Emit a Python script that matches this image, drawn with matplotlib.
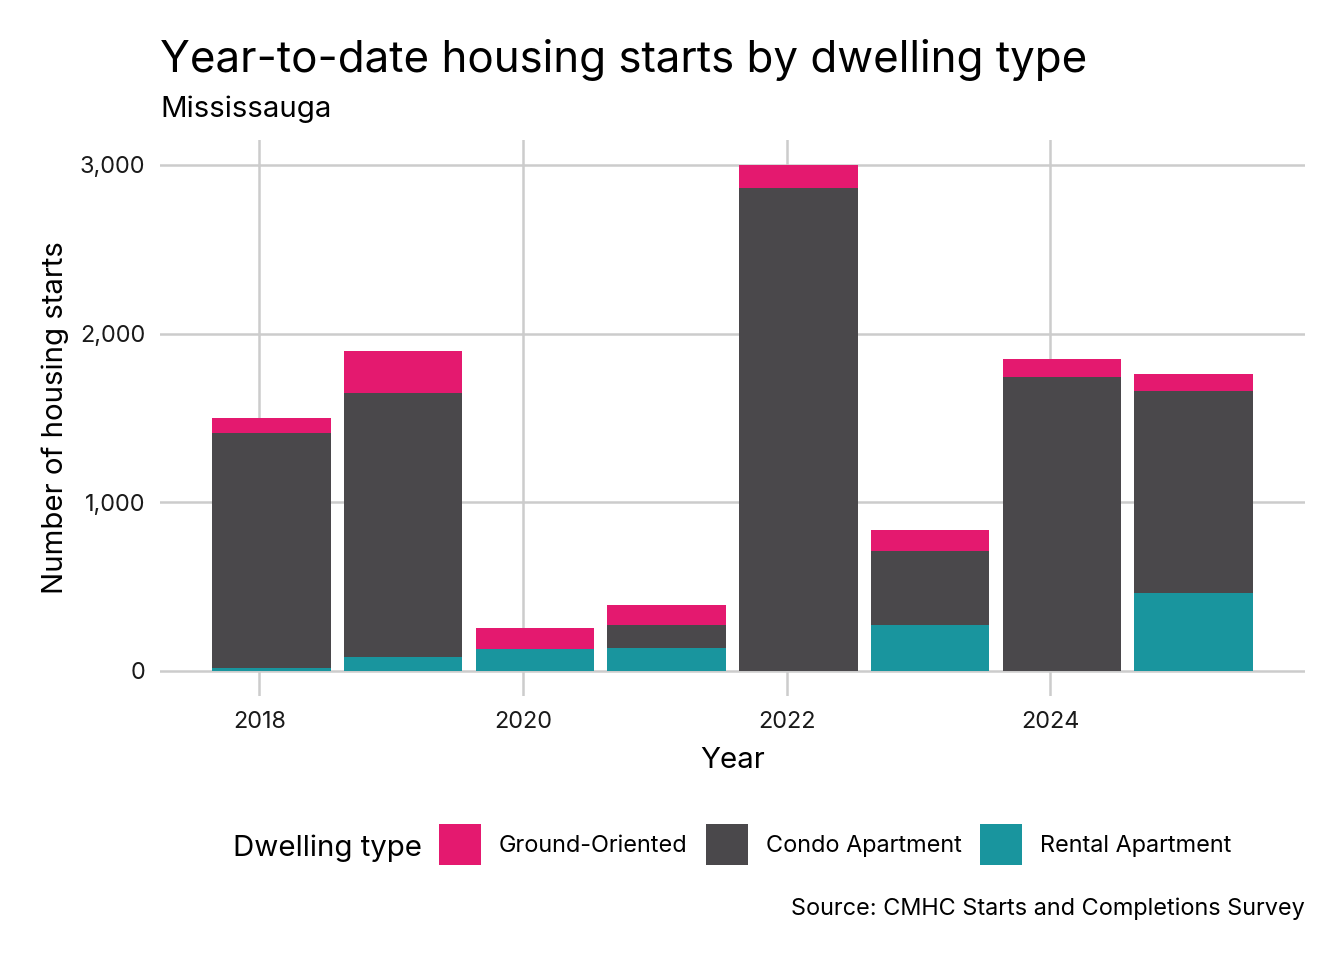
import matplotlib
matplotlib.use("Agg")
import matplotlib.pyplot as plt
from matplotlib.patches import Patch
from matplotlib.ticker import FuncFormatter
import numpy as np

plt.rcParams['font.family'] = ['Inter', 'DejaVu Sans']

years = [2018, 2019, 2020, 2021, 2022, 2023, 2024, 2025]
rental = [18, 83, 130, 136, 0, 272, 0, 461]
condo = [1393, 1567, 0, 137, 2864, 439, 1742, 1199]
ground = [89, 247, 125, 118, 137, 125, 108, 100]

series_names = ["Ground-Oriented", "Condo Apartment", "Rental Apartment"]
colors = {"Ground-Oriented": "#e4196f",
          "Condo Apartment": "#4a484b",
          "Rental Apartment": "#19959e"}

W, H = 1344, 960
fig = plt.figure(figsize=(W / 200, H / 200), dpi=200)

def fx(px):
    return px / W

def fy(py):
    return 1 - py / H

small = 8.45
medium = 10.6

# panel
ax = fig.add_axes([fx(160), fy(696), fx(1305) - fx(160), fy(139.5) - fy(696)])

# bars sit a little after Jan 1 of each year (date axis)
x = np.array(years) + 0.09
rental_a = np.array(rental)
condo_a = np.array(condo)
ground_a = np.array(ground)

ax.bar(x, rental_a, width=0.9, color=colors["Rental Apartment"], linewidth=0, zorder=2)
ax.bar(x, condo_a, width=0.9, bottom=rental_a, color=colors["Condo Apartment"], linewidth=0, zorder=2)
ax.bar(x, ground_a, width=0.9, bottom=rental_a + condo_a, color=colors["Ground-Oriented"], linewidth=0, zorder=2)

totals = rental_a + condo_a + ground_a
lo, hi = x.min() - 0.45, x.max() + 0.45
pad = (hi - lo) * 0.05
ax.set_xlim(lo - pad, hi + pad)
ypad = totals.max() * 0.05
ax.set_ylim(-ypad, totals.max() + ypad)

ax.set_xticks([2018, 2020, 2022, 2024])
ax.set_xticklabels(["2018", "2020", "2022", "2024"])
ax.set_yticks([0, 1000, 2000, 3000])
ax.yaxis.set_major_formatter(FuncFormatter(lambda v, p: f"{int(v):,}"))

for s in ax.spines.values():
    s.set_visible(False)
ax.tick_params(length=0, labelsize=small, colors="#1a1a1a", pad=5.3)
ax.tick_params(axis="x", pad=5.3)
ax.grid(True, color="#cccccc", linewidth=0.9, zorder=0)
ax.set_axisbelow(True)

ax.set_xlabel("Year", fontsize=medium, labelpad=5)
ax.set_ylabel("Number of housing starts", fontsize=medium, labelpad=4)

# titles
fig.text(fx(160), fy(71.7), "Year-to-date housing starts by dwelling type",
         fontsize=15.8, va="baseline", ha="left")
fig.text(fx(160), fy(116.7), "Mississauga", fontsize=medium, va="baseline", ha="left")
fig.text(fx(1305), fy(915.3), "Source: CMHC Starts and Completions Survey",
         fontsize=small, va="baseline", ha="right")

# legend
fig.text(fx(233), fy(855.5), "Dwelling type", fontsize=medium, va="baseline", ha="left")
handles = [Patch(facecolor=colors[n], edgecolor="none", label=n) for n in series_names]
fig.legend(handles=handles, ncol=3, loc="center left",
           bbox_to_anchor=(fx(439), fy(844.5)), frameon=False,
           fontsize=small, handlelength=1.79, handleheight=2.25,
           handletextpad=0.76, columnspacing=0.78, borderpad=0, borderaxespad=0)

fig.savefig("out.png", dpi=200, facecolor="white")
